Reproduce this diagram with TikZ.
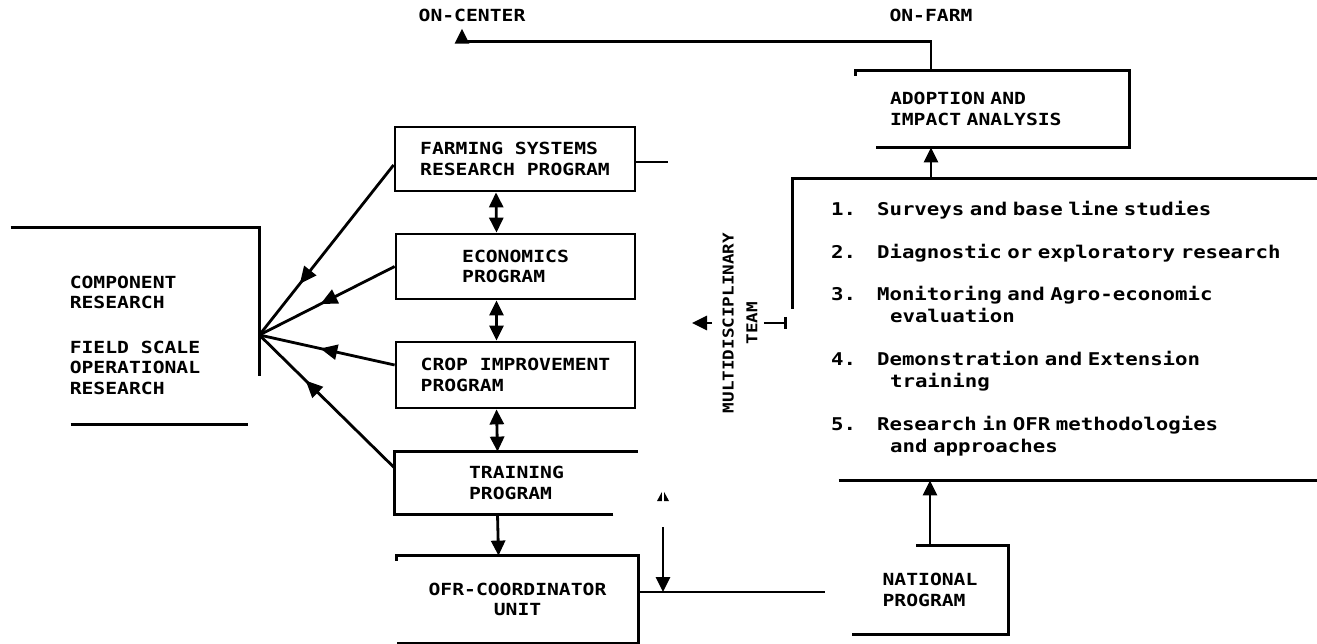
\documentclass[tikz,border=0pt]{standalone}
\usepackage{fontspec}
\newfontfamily\scanfont[FakeStretch=1.18]{DejaVu Sans Mono}
\usetikzlibrary{arrows.meta, decorations.markings}

\begin{document}
\begin{tikzpicture}[x=0.02cm, y=-0.02cm, line width=1.6pt,
  every node/.style={font={\scanfont\bfseries\fontsize{9.5}{11.6}\selectfont}, inner sep=0pt},
  box/.style={minimum width=4.78cm, align=left},
  arr/.style={-{Triangle[length=0.3cm, width=0.28cm]}},
  dbl/.style={{Triangle[length=0.3cm, width=0.28cm]}-{Triangle[length=0.3cm, width=0.28cm]}},
  midarr/.style={postaction={decorate}, decoration={markings, mark=at position #1 with {\arrow{Triangle[length=0.34cm, width=0.3cm]}}}}]
  \fill[white] (0,0) rectangle (1317,644);
  \useasboundingbox (0,0) rectangle (1317,644);
  \node (oncenter) at (472,15) {ON-CENTER};
  \node (onfarm) at (931,15) {ON-FARM};
  \node[box, draw, minimum width=4.8cm, minimum height=1.28cm] (farm) at (515,159) {FARMING SYSTEMS\\RESEARCH PROGRAM};
  \node[box, draw, minimum height=1.3cm] (econ) at (515.5,266.5) {ECONOMICS\\PROGRAM};
  \node[box, draw, minimum height=1.32cm] (crop) at (515.5,375) {CROP IMPROVEMENT\\PROGRAM};
  \node[box, minimum width=4.82cm, minimum height=1.2cm] (train) at (516.5,483) {TRAINING\\PROGRAM};
  \node[box, align=center, minimum height=1.7cm] (ofr) at (517.5,599.5) {OFR-COORDINATOR\\UNIT};
  \node[box, minimum width=4.92cm, minimum height=4.24cm] (comp) at (135,335) {COMPONENT\\RESEARCH\\[13.9pt]FIELD SCALE\\OPERATIONAL\\RESEARCH};
  \node[align=left, text width=4.1cm, inner xsep=0.66cm, minimum height=1.48cm] (adopt) at (992.5,109) {ADOPTION AND\\IMPACT ANALYSIS};
  \node[box, minimum width=3.08cm, minimum height=1.72cm] (nat) at (930,590) {NATIONAL\\PROGRAM};
  \node[text width=9.6cm, minimum width=10.46cm, minimum height=5.98cm] (tasks) at (1055.5,329.5) {%
    \fontsize{10}{12.5}\selectfont
    \begin{tabular}{@{\hspace*{0.31cm}}p{0.92cm}@{}l@{}}
      1. & Surveys and base line studies\\[11.9pt]
      2. & Diagnostic or exploratory research\\[11.9pt]
      3. & Monitoring and Agro-economic\\
         & \hspace*{0.26cm}evaluation\\[11.9pt]
      4. & Demonstration and Extension\\
         & \hspace*{0.26cm}training\\[11.9pt]
      5. & Research in OFR methodologies\\
         & \hspace*{0.26cm}and approaches
    \end{tabular}};
  \node[rotate=90, align=center, font={\scanfont\bfseries\fontsize{8.5}{13.5}\selectfont}] (mdt) at (740,323) {MULTIDISCIPLINARY\\TEAM};
  \coordinate (mdtleft) at (692,323);
  \coordinate (teamend) at (787,323);
  \coordinate (natin) at (825,592);
  \coordinate (drop) at (663,527);
  \draw ([xshift=-0.5cm]train.south east) -- (train.south west) -- (train.north west) -- (train.north east);
  \draw ([yshift=-0.1cm]ofr.north west) -- (ofr.north west) -- (ofr.north east) -- (ofr.south east) -- (ofr.south west);
  \draw ([yshift=-0.1cm]adopt.north west) -- (adopt.north west) -- (adopt.north east) -- (adopt.south east) -- ([xshift=0.4cm]adopt.south west);
  \draw ([xshift=-1.84cm]nat.north east) -- (nat.north east) -- (nat.south east) -- (nat.south west);
  \draw ([yshift=-2.6cm]tasks.north west) -- (tasks.north west) -- (tasks.north east);
  \draw ([xshift=0.92cm]tasks.south west) -- (tasks.south east);
  \draw (comp.north west) -- (comp.north east) -- ([yshift=1.32cm]comp.south east);
  \draw ([xshift=1.2cm,yshift=0.36cm]comp.south west) -- ([xshift=-0.22cm,yshift=0.36cm]comp.south east);
  \draw[arr] (adopt.north -| onfarm) -- ++(0,-29) -| ([xshift=-0.2cm,yshift=-0.12cm]oncenter.south);
  \draw[arr] (tasks.north -| onfarm) -- (adopt.south -| onfarm);
  \draw[arr] (nat.north) -- (tasks.south -| nat.north);
  \foreach \a/\b in {farm/econ, econ/crop, crop/train}
    \draw[dbl] ([xshift=-0.38cm]\a.south) -- ([xshift=-0.38cm]\b.north);
  \draw[arr] ([xshift=-0.38cm]train.south) -- ([xshift=-0.38cm]ofr.north);
  \draw ([yshift=-0.06cm]farm.east) -- ++(32,0);
  \draw[midarr=0.7] ([yshift=-0.12cm]farm.west) -- (comp.east);
  \draw[midarr=0.55] (econ.west) -- (comp.east);
  \draw[midarr=0.55] ([yshift=0.2cm]crop.west) -- (comp.east);
  \draw[midarr=0.66] ([yshift=0.3cm]train.west) -- (comp.east);
  \draw (ofr.east |- natin) -- (natin);
  \draw[arr] (drop) -- (drop |- natin);
  \fill (657,501) -- (663,490) -- (669,501) -- cycle;
  \draw[white, line width=1pt] (663,488) -- (663,503);
  \draw[arr] ([xshift=-0.18cm]mdt.north) -- (mdtleft);
  \draw[-{Bar[width=0.24cm]}] ([xshift=0.1cm]mdt.south) -- (teamend);
\end{tikzpicture}
\end{document}
